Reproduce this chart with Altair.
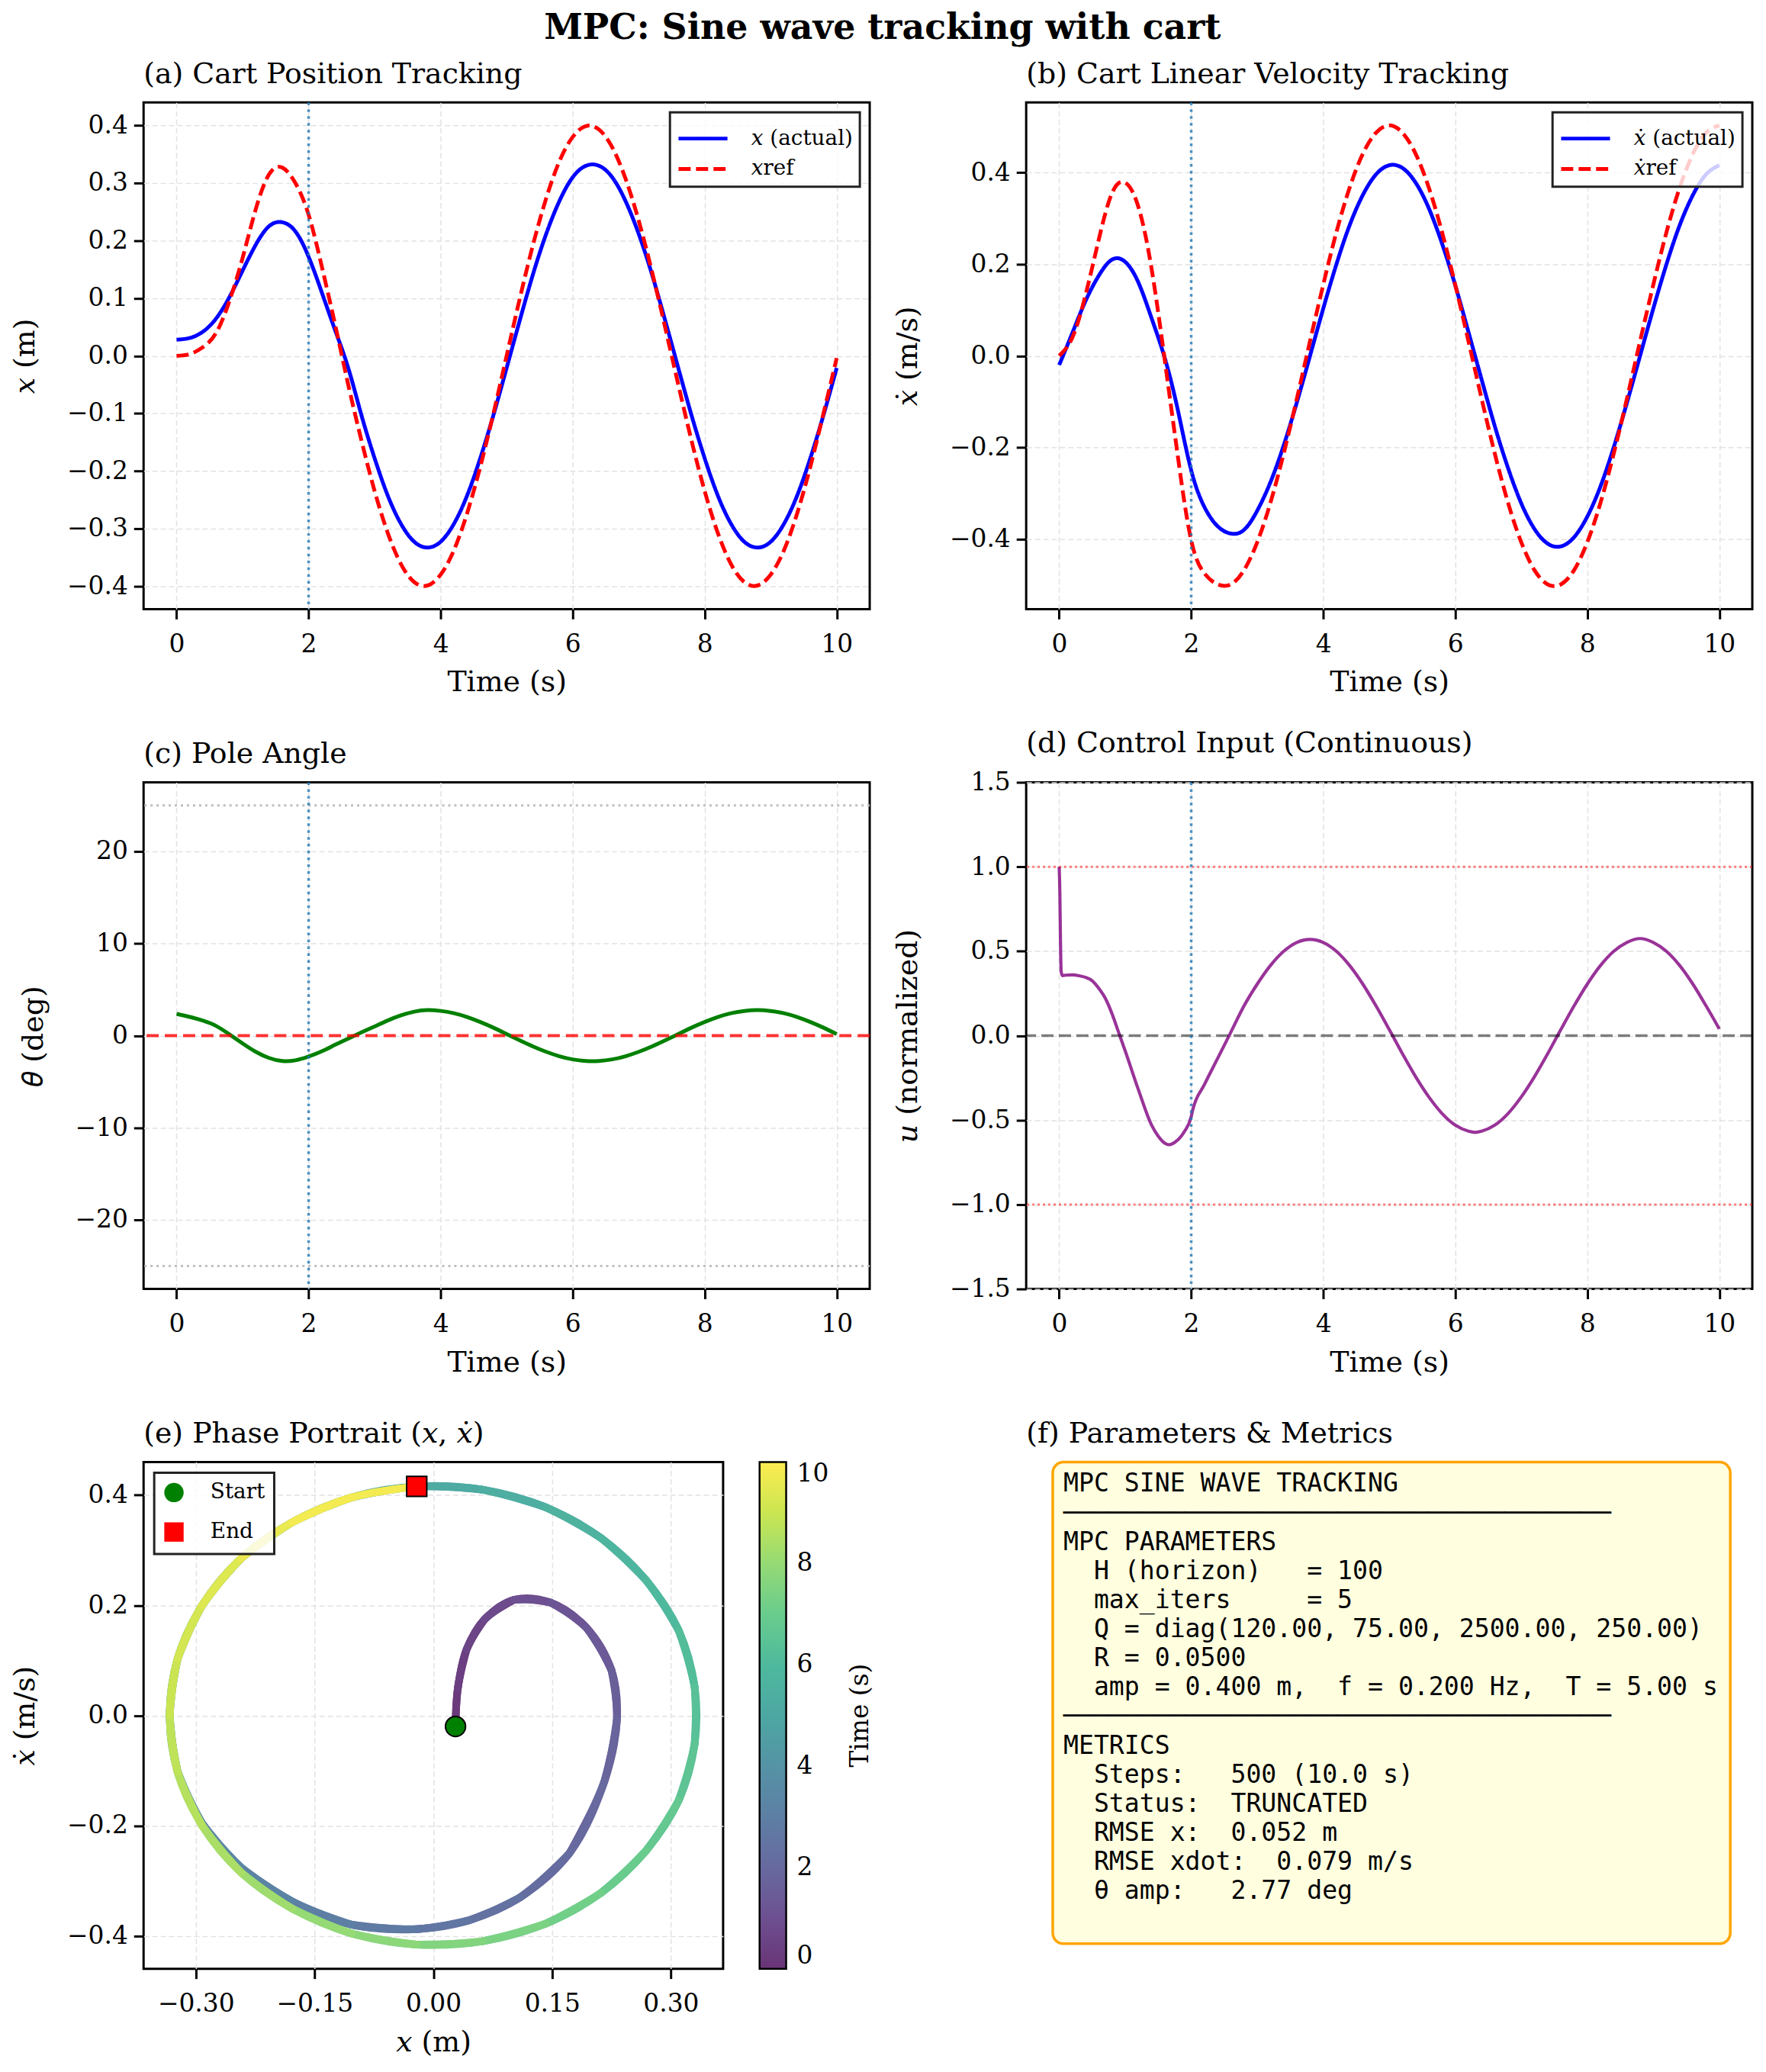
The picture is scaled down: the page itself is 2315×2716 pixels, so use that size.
import altair as alt
import pandas as pd

SERIF = "DejaVu Serif"
MONO = "DejaVu Sans Mono"

# ---------------- data ----------------
T = [0.0, 0.2, 0.4, 0.6, 0.8, 1.0, 1.2, 1.4, 1.6, 1.8, 2.0, 2.2, 2.4, 2.6, 2.8, 3.0, 3.2, 3.4, 3.6, 3.8,
     4.0, 4.2, 4.4, 4.6, 4.8, 5.0, 5.2, 5.4, 5.6, 5.8, 6.0, 6.2, 6.4, 6.6, 6.8, 7.0, 7.2, 7.4, 7.6, 7.8,
     8.0, 8.2, 8.4, 8.6, 8.8, 9.0, 9.2, 9.4, 9.6, 9.8, 10.0]

X_REF = [0.0, 0.003, 0.015, 0.040, 0.095, 0.170, 0.255, 0.315, 0.327, 0.300, 0.245, 0.155, 0.055, -0.050,
         -0.147, -0.235, -0.308, -0.362, -0.393, -0.399, -0.380, -0.338, -0.274, -0.193, -0.100, 0.000,
         0.100, 0.193, 0.274, 0.338, 0.380, 0.399, 0.393, 0.362, 0.308, 0.235, 0.147, 0.050, -0.050,
         -0.147, -0.235, -0.308, -0.362, -0.393, -0.399, -0.380, -0.338, -0.274, -0.193, -0.100, -0.004]

X_ACT = [0.028, 0.031, 0.042, 0.065, 0.102, 0.148, 0.193, 0.225, 0.232, 0.216, 0.172, 0.110, 0.045, -0.021,
         -0.103, -0.178, -0.243, -0.292, -0.323, -0.333, -0.323, -0.292, -0.243, -0.178, -0.103, -0.021,
         0.062, 0.142, 0.212, 0.269, 0.310, 0.330, 0.330, 0.310, 0.269, 0.212, 0.142, 0.062, -0.021,
         -0.103, -0.178, -0.243, -0.292, -0.323, -0.333, -0.323, -0.292, -0.243, -0.178, -0.103, -0.021]

XD_REF = [0.0, 0.040, 0.133, 0.254, 0.355, 0.378, 0.325, 0.190, -0.010, -0.222, -0.403, -0.475, -0.499,
          -0.499, -0.468, -0.407, -0.321, -0.214, -0.094, 0.032, 0.155, 0.270, 0.367, 0.441, 0.487, 0.503,
          0.487, 0.441, 0.367, 0.270, 0.155, 0.032, -0.094, -0.214, -0.321, -0.407, -0.468, -0.499, -0.499,
          -0.468, -0.407, -0.321, -0.214, -0.094, 0.032, 0.155, 0.270, 0.367, 0.441, 0.487, 0.503]

XD_ACT = [-0.020, 0.050, 0.120, 0.175, 0.210, 0.205, 0.160, 0.082, -0.005, -0.120, -0.250, -0.330, -0.372,
          -0.388, -0.380, -0.338, -0.276, -0.196, -0.102, 0.000, 0.103, 0.200, 0.285, 0.351, 0.396, 0.416,
          0.410, 0.378, 0.322, 0.245, 0.154, 0.052, -0.052, -0.154, -0.245, -0.322, -0.378, -0.410, -0.416,
          -0.396, -0.351, -0.285, -0.200, -0.103, 0.000, 0.103, 0.200, 0.285, 0.351, 0.396, 0.416]

THETA = [2.36, 2.03, 1.62, 1.05, 0.14, -0.85, -1.76, -2.42, -2.76, -2.68, -2.27, -1.70, -1.00, -0.32, 0.35,
         1.00, 1.65, 2.20, 2.60, 2.77, 2.68, 2.43, 2.02, 1.48, 0.86, 0.17, -0.52, -1.18, -1.76, -2.24,
         -2.58, -2.75, -2.75, -2.58, -2.24, -1.76, -1.18, -0.52, 0.17, 0.86, 1.48, 2.02, 2.43, 2.68, 2.77,
         2.68, 2.43, 2.02, 1.48, 0.86, 0.17]

T_U = [0.0, 0.01, 0.02, 0.03, 0.05, 0.1, 0.2, 0.3, 0.4, 0.5, 0.6, 0.7, 0.8, 0.9, 1.0, 1.2, 1.4, 1.5, 1.6,
       1.66, 1.75, 1.85, 1.9, 2.0, 2.02, 2.2, 2.4, 2.6, 2.8, 3.0, 3.2, 3.4, 3.6, 3.8, 4.0, 4.2, 4.4, 4.6,
       4.8, 5.0, 5.2, 5.4, 5.6, 5.8, 6.0, 6.2, 6.3, 6.4, 6.6, 6.8, 7.0, 7.2, 7.4, 7.6, 7.8, 8.0, 8.2, 8.4,
       8.6, 8.8, 9.0, 9.2, 9.4, 9.6, 9.8, 10.0]
U = [1.0, 0.85, 0.55, 0.38, 0.355, 0.358, 0.36, 0.355, 0.345, 0.325, 0.28, 0.22, 0.13, 0.02, -0.09, -0.32,
     -0.53, -0.595, -0.637, -0.646, -0.632, -0.595, -0.566, -0.48, -0.445, -0.29, -0.135, 0.02, 0.176,
     0.305, 0.415, 0.499, 0.552, 0.570, 0.552, 0.499, 0.415, 0.305, 0.176, 0.036, -0.107, -0.243, -0.363,
     -0.461, -0.530, -0.566, -0.573, -0.566, -0.530, -0.461, -0.363, -0.243, -0.107, 0.036, 0.176, 0.305,
     0.415, 0.499, 0.552, 0.575, 0.552, 0.499, 0.415, 0.305, 0.176, 0.040]

EVENT_T = [2.0]
THETA_LIMITS = [-25, 25]
U_LIMITS = [-1, 1]
ZERO = [0]
TIME_TICKS = [0, 2, 4, 6, 8, 10]
CB_RANGE = [0, 10]
CB_TITLE = ["Time (s)"]

# viridis at alpha 0.8 over white
VIRIDIS_A = ["#693476", "#6d5091", "#67699f", "#5d7fa4", "#5593a5", "#4da7a3",
             "#4eb99d", "#69cc8d", "#95da74", "#cae551", "#fdec51"]

INFO_LINES = [
    "MPC SINE WAVE TRACKING",
    "\u2500" * 36,
    "MPC PARAMETERS",
    "  H (horizon)   = 100",
    "  max_iters     = 5",
    "  Q = diag(120.00, 75.00, 2500.00, 250.00)",
    "  R = 0.0500",
    "  amp = 0.400 m,  f = 0.200 Hz,  T = 5.00 s",
    "\u2500" * 36,
    "METRICS",
    "  Steps:   500 (10.0 s)",
    "  Status:  TRUNCATED",
    "  RMSE x:  0.052 m",
    "  RMSE xdot:  0.079 m/s",
    "  \u03b8 amp:   2.77 deg",
]

# ---------------- layout ----------------
W, H = 956, 667
EW, CBW = 763, 35
XDOM = [-0.5, 10.5]

XI = "\U0001D465"          # math italic x
XDOT = XI + "\u0307"       # x with dot above


def ptitle(text):
    return alt.Title(text, anchor="start", frame="group", offset=16, font=SERIF,
                     fontSize=38, fontWeight="normal", color="black")


def xenc():
    return alt.X("t:Q", scale=alt.Scale(domain=XDOM, nice=False, zero=False),
                 axis=alt.Axis(values=TIME_TICKS, format="d", title="Time (s)"))


def event_rule():
    return alt.Chart(pd.DataFrame({"t": EVENT_T})).mark_rule(
        color="#1f77b4", opacity=0.8, strokeWidth=3.5, strokeDash=[3.5, 5.5]
    ).encode(x=xenc())


def tracking_panel(act, ref, lab_act, lab_ref, ydom, yvals, ytitle, title):
    n = len(T)
    df = pd.DataFrame({"t": T + T, "v": act + ref, "s": [lab_act] * n + [lab_ref] * n})
    y = alt.Y("v:Q", scale=alt.Scale(domain=ydom, nice=False, zero=False),
              axis=alt.Axis(values=yvals, format=".1f", title=ytitle))
    leg = alt.Legend(title=None, orient="top-right", offset=13, symbolType="M-1.4,0H1.4",
                     symbolSize=2116, symbolStrokeWidth=5, symbolOffset=9, rowPadding=0, padding=9,
                     labelOffset=38)
    dom = [lab_act, lab_ref]
    lines = alt.Chart(df).mark_line(interpolate="natural", strokeWidth=5, clip=True).encode(
        x=xenc(), y=y,
        color=alt.Color("s:N", scale=alt.Scale(domain=dom, range=["#0000ff", "#ff0000"]), legend=leg),
        strokeDash=alt.StrokeDash("s:N", scale=alt.Scale(domain=dom, range=[[1, 0], [16, 7]]), legend=leg),
    )
    return alt.layer(lines, event_rule()).properties(width=W, height=H, title=ptitle(title))


panel_a = tracking_panel(X_ACT, X_REF, XI + " (actual)", XI + "ref", [-0.44, 0.44],
                         [-0.4, -0.3, -0.2, -0.1, 0.0, 0.1, 0.2, 0.3, 0.4], XI + " (m)",
                         "(a) Cart Position Tracking")
panel_b = tracking_panel(XD_ACT, XD_REF, XDOT + " (actual)", XDOT + "ref", [-0.553, 0.553],
                         [-0.4, -0.2, 0.0, 0.2, 0.4], XDOT + " (m/s)",
                         "(b) Cart Linear Velocity Tracking")

# (c) pole angle
yc = alt.Y("v:Q", scale=alt.Scale(domain=[-27.5, 27.5], nice=False, zero=False),
           axis=alt.Axis(values=[-20, -10, 0, 10, 20], format="d", title="\U0001D703 (deg)"))
c_line = alt.Chart(pd.DataFrame({"t": T, "v": THETA})).mark_line(
    interpolate="natural", color="#008000", strokeWidth=5, clip=True).encode(x=xenc(), y=yc)
c_lim = alt.Chart(pd.DataFrame({"v": THETA_LIMITS})).mark_rule(
    color="#bfbfbf", strokeWidth=3, strokeDash=[3, 5]).encode(y=yc)
c_zero = alt.Chart(pd.DataFrame({"v": ZERO})).mark_rule(
    color="#ff0000", opacity=0.8, strokeWidth=4, strokeDash=[16, 8]).encode(y=yc)
panel_c = alt.layer(c_lim, c_line, c_zero, event_rule()).properties(
    width=W, height=H, title=ptitle("(c) Pole Angle"))

# (d) control input
yd = alt.Y("v:Q", scale=alt.Scale(domain=[-1.5, 1.5], nice=False, zero=False),
           axis=alt.Axis(values=[-1.5, -1.0, -0.5, 0.0, 0.5, 1.0, 1.5], format=".1f",
                         title="\U0001D462 (normalized)"))
d_line = alt.Chart(pd.DataFrame({"t": T_U, "v": U})).mark_line(
    interpolate="monotone", color="#800080", opacity=0.8, strokeWidth=4.2, clip=True).encode(x=xenc(), y=yd)
d_lim = alt.Chart(pd.DataFrame({"v": U_LIMITS})).mark_rule(
    color="#ff0000", opacity=0.5, strokeWidth=3, strokeDash=[3, 4]).encode(y=yd)
d_zero = alt.Chart(pd.DataFrame({"v": ZERO})).mark_rule(
    color="#000000", opacity=0.5, strokeWidth=3.5, strokeDash=[16, 7]).encode(y=yd)
panel_d = alt.layer(d_line, d_lim, d_zero, event_rule()).properties(
    width=W, height=H, title=ptitle("(d) Control Input (Continuous)"))

# (e) phase portrait with a colour-bar legend
ex = alt.X("x:Q", scale=alt.Scale(domain=[-0.366, 0.366], nice=False, zero=False),
           axis=alt.Axis(values=[-0.3, -0.15, 0.0, 0.15, 0.3], format=".2f", title=XI + " (m)"))
ey = alt.Y("y:Q", scale=alt.Scale(domain=[-0.46, 0.46], nice=False, zero=False),
           axis=alt.Axis(values=[-0.4, -0.2, 0.0, 0.2, 0.4], format=".1f", title=XDOT + " (m/s)"))

# each short piece of the trajectory is drawn as its own smooth curve through the neighbouring
# samples, so that it can carry its own time colour
pieces = []
n = len(T)
for k in range(n - 1):
    for j, idx in enumerate(range(max(k - 1, 0), min(k + 3, n))):
        pieces.append({"seg": k, "ord": j, "x": X_ACT[idx], "y": XD_ACT[idx], "t": T[k]})
path_df = pd.DataFrame(pieces)

cb_legend = alt.Legend(
    title=None, orient="right", offset=48, direction="vertical", values=TIME_TICKS, format="d",
    gradientLength=H, gradientThickness=CBW, gradientStrokeColor="black", gradientStrokeWidth=2.5,
    labelFontSize=33, labelOffset=14, labelBaseline="middle", padding=0,
    strokeColor="transparent", fillColor="transparent",
)
e_path = alt.Chart(path_df).mark_line(
    interpolate="catmull-rom", strokeWidth=10, strokeCap="round", strokeJoin="round"
).encode(
    x=ex, y=ey, detail="seg:N", order="ord:Q",
    color=alt.Color("t:Q", scale=alt.Scale(domain=CB_RANGE, range=VIRIDIS_A, interpolate="rgb"),
                    legend=cb_legend),
)
marks = pd.DataFrame({"label": ["Start", "End"], "x": [X_ACT[0], X_ACT[-1]], "y": [XD_ACT[0], XD_ACT[-1]]})
leg_e = alt.Legend(title=None, orient="top-left", offset=14, symbolSize=650, symbolStrokeColor="black",
                   symbolStrokeWidth=2, labelOffset=34, padding=12, rowPadding=18)
e_marks = alt.Chart(marks).mark_point(filled=True, size=700, stroke="black", strokeWidth=2, opacity=1).encode(
    x=ex, y=ey,
    fill=alt.Fill("label:N", scale=alt.Scale(domain=["Start", "End"], range=["#008000", "#ff0000"]), legend=leg_e),
    shape=alt.Shape("label:N", scale=alt.Scale(domain=["Start", "End"], range=["circle", "square"]), legend=leg_e),
)
cb_title = alt.Chart(pd.DataFrame({"txt": CB_TITLE})).mark_text(
    angle=270, font=SERIF, fontSize=33, color="black", align="center", baseline="middle"
).encode(text="txt:N", x=alt.value(944), y=alt.value(H / 2))
panel_e = alt.layer(e_path, e_marks, cb_title).properties(
    width=EW, height=H, title=ptitle("(e) Phase Portrait (" + XI + ", " + XDOT + ")"))

# (f) parameters box
info_text = "\n".join("\u200b" + line.replace(" ", "\u00a0") for line in INFO_LINES)
f_box = alt.Chart(pd.DataFrame({"k": [0]})).mark_rect(
    fill="#ffffe0", stroke="#ffa500", strokeWidth=3.5, cornerRadius=14
).encode(x=alt.value(35), x2=alt.value(927), y=alt.value(0), y2=alt.value(634))
f_text = alt.Chart(pd.DataFrame({"txt": [info_text]})).mark_text(
    align="left", baseline="top", font=MONO, fontSize=33.3, lineHeight=38.3, lineBreak="\n", color="black"
).encode(text="txt:N", x=alt.value(49), y=alt.value(13))
panel_f = alt.layer(f_box, f_text).properties(
    width=W, height=H, title=ptitle("(f) Parameters & Metrics"),
    view=alt.ViewBackground(stroke="transparent"))

chart = alt.concat(
    panel_a, panel_b, panel_c, panel_d, panel_e, panel_f,
    columns=2, spacing={"row": 228, "column": 206}, bounds="flush",
).resolve_scale(
    color="independent", strokeDash="independent", fill="independent", shape="independent"
).resolve_legend(
    color="independent", strokeDash="independent", fill="independent", shape="independent"
).properties(
    title=alt.Title("MPC: Sine wave tracking with cart", font=SERIF, fontSize=46, fontWeight="bold",
                    anchor="middle", offset=16, color="black"),
    padding={"left": 5, "top": 0, "right": 6, "bottom": 10},
    background="white",
).configure_view(
    stroke="black", strokeWidth=3
).configure_axis(
    labelFont=SERIF, labelFontSize=33, labelColor="black",
    titleFont=SERIF, titleFontSize=38, titleFontWeight="normal", titleColor="black",
    tickColor="black", tickWidth=3, tickSize=13, domain=False,
    gridColor="#e2e2e2", gridDash=[7, 4], gridWidth=1.5,
    labelPadding=8,
).configure_axisX(
    titlePadding=15, labelPadding=17
).configure_axisY(
    titlePadding=35
).configure_legend(
    labelFont=SERIF, labelFontSize=28, labelColor="black",
    strokeColor="#222222", strokeWidth=3, fillColor="rgba(255,255,255,0.8)",
    padding=12, cornerRadius=0, rowPadding=14, labelOffset=20,
).configure_title(
    font=SERIF, color="black"
)

chart.save("out.html", embed_options={"renderer": "svg", "actions": False})
